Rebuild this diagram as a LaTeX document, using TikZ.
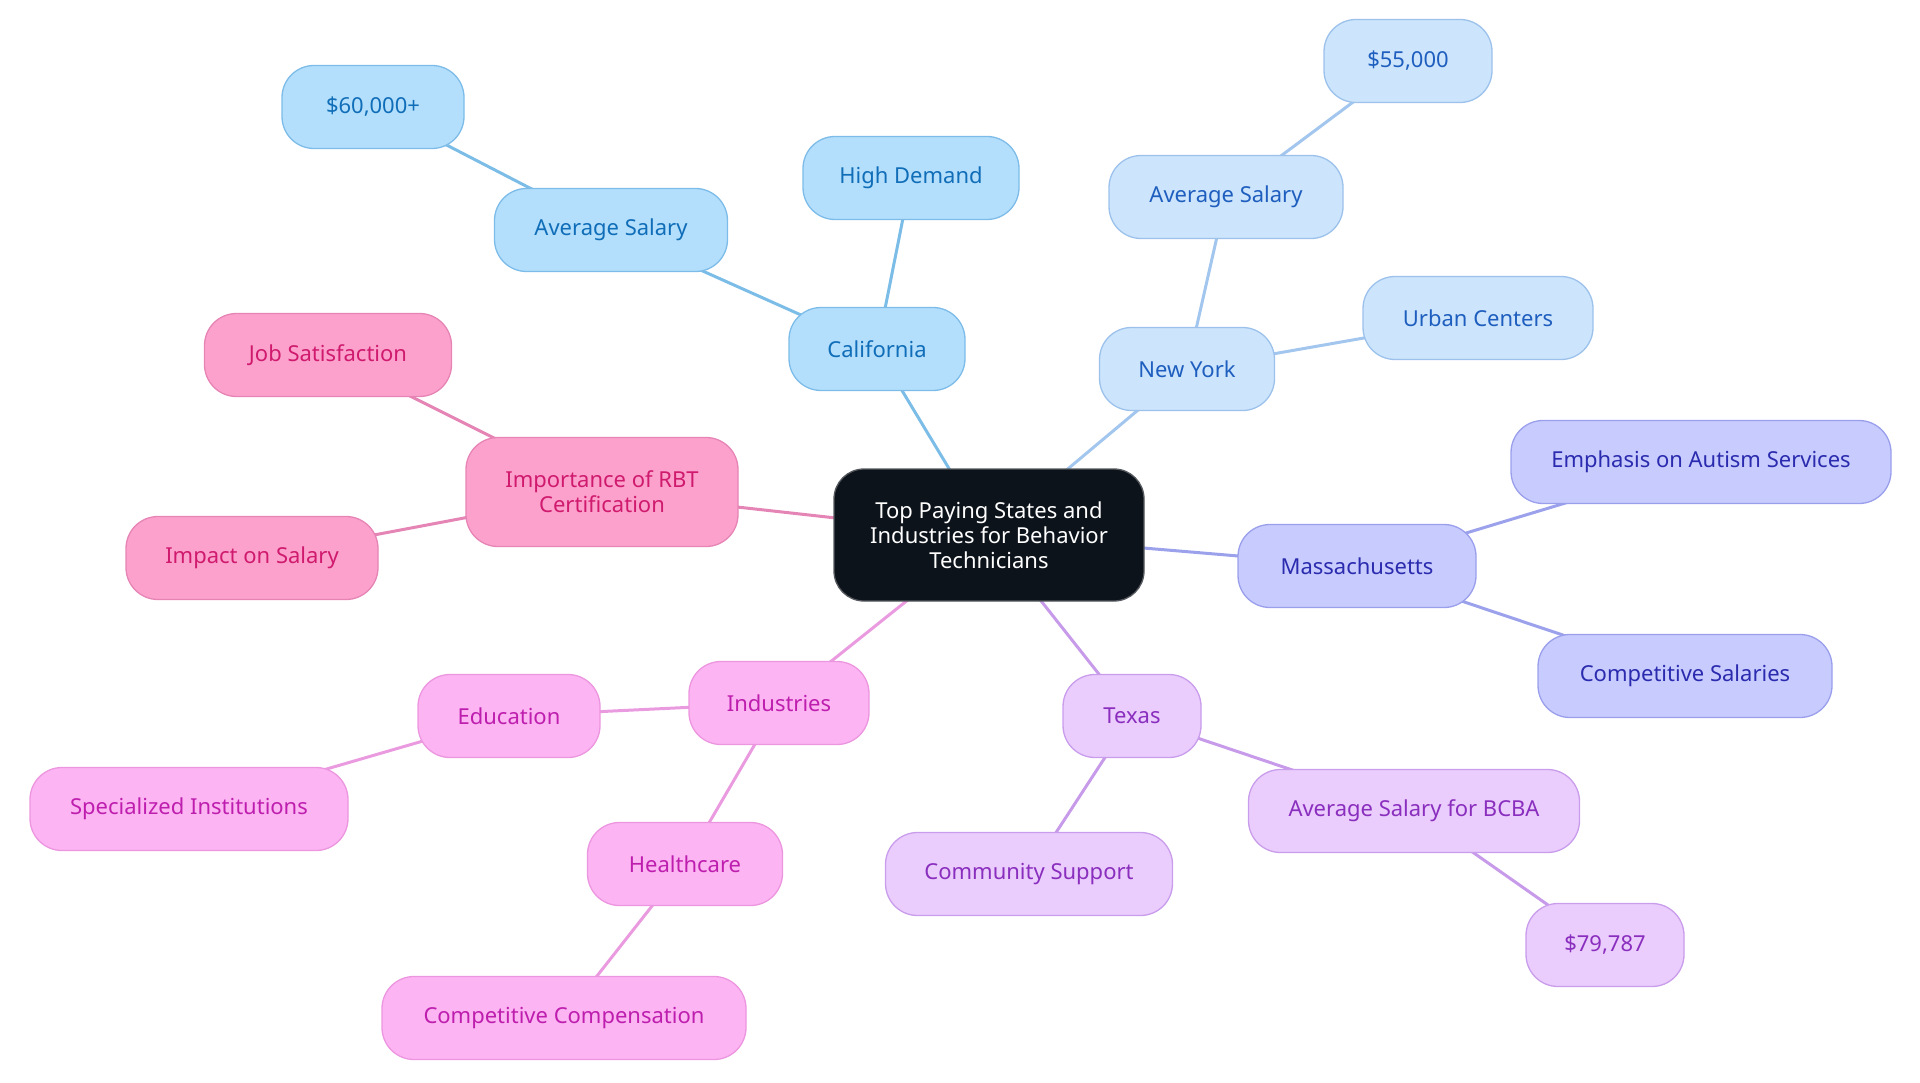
\documentclass[tikz,border=0pt]{standalone}
\usepackage{fontspec}
\setmainfont{Noto Sans}
\usetikzlibrary{backgrounds}
\definecolor{rootF}{HTML}{0D131B}
\definecolor{caF}{HTML}{B3DFFC}\definecolor{caD}{HTML}{7DBCE8}\definecolor{caT}{HTML}{106DB8}\definecolor{caL}{HTML}{7CBDE7}
\definecolor{nyF}{HTML}{CCE4FC}\definecolor{nyD}{HTML}{9CC2EC}\definecolor{nyT}{HTML}{1E5EBE}\definecolor{nyL}{HTML}{A2C6EE}
\definecolor{maF}{HTML}{C8CBFD}\definecolor{maD}{HTML}{9A9FEC}\definecolor{maT}{HTML}{2A2BAE}\definecolor{maL}{HTML}{9CA1EC}
\definecolor{txF}{HTML}{EACCFD}\definecolor{txD}{HTML}{C99DEB}\definecolor{txT}{HTML}{8A2EBE}\definecolor{txL}{HTML}{C79BEA}
\definecolor{inF}{HTML}{FCB4F3}\definecolor{inD}{HTML}{EC96DF}\definecolor{inT}{HTML}{BE1EAE}\definecolor{inL}{HTML}{EA9BE0}
\definecolor{rbF}{HTML}{FCA1CC}\definecolor{rbD}{HTML}{E684B5}\definecolor{rbT}{HTML}{CF1A6E}\definecolor{rbL}{HTML}{E585B5}
\begin{document}
\begin{tikzpicture}[x=1pt,y=-1pt,
  mm/.style={rounded corners=32pt, draw, line width=1.3pt, minimum height=83pt, inner sep=0pt, align=center, font=\fontsize{22}{25}\selectfont},
  rootbox/.style={mm, rounded corners=30pt, fill=rootF, draw=rootF!70!white, text=white, minimum height=132pt, minimum width=310pt},
  cabox/.style={mm, fill=caF, draw=caD, text=caT},
  nybox/.style={mm, fill=nyF, draw=nyD, text=nyT},
  mabox/.style={mm, fill=maF, draw=maD, text=maT},
  txbox/.style={mm, fill=txF, draw=txD, text=txT},
  inbox/.style={mm, fill=inF, draw=inD, text=inT},
  rbbox/.style={mm, fill=rbF, draw=rbD, text=rbT},
  link/.style={line width=3pt}
]
\useasboundingbox (0,0) rectangle (1920,1083);

\node[rootbox] (root) at (989,535) {Top Paying States and\\Industries for Behavior\\Technicians};

\node[cabox, minimum width=176pt] (ca) at (877,349) {California};
\node[cabox, minimum width=233pt] (caavg) at (611,230) {Average Salary};
\node[cabox, minimum width=182pt] (ca60) at (373,107) {\$60,000+};
\node[cabox, minimum width=216pt] (cahd) at (911,178) {High Demand};

\node[nybox, minimum width=175pt] (ny) at (1187,369) {New York};
\node[nybox, minimum width=234pt] (nyavg) at (1226,197) {Average Salary};
\node[nybox, minimum width=168pt] (ny55) at (1408,61) {\$55,000};
\node[nybox, minimum width=230pt] (nyurb) at (1478,318) {Urban Centers};

\node[mabox, minimum width=238pt] (ma) at (1357,566) {Massachusetts};
\node[mabox, minimum width=380pt] (maemp) at (1701,462) {Emphasis on Autism Services};
\node[mabox, minimum width=294pt] (macomp) at (1685,676) {Competitive Salaries};

\node[txbox, minimum width=138pt] (tx) at (1132,716) {Texas};
\node[txbox, minimum width=331pt] (txbcba) at (1414,811) {Average Salary for BCBA};
\node[txbox, minimum width=158pt] (tx79) at (1605,945) {\$79,787};
\node[txbox, minimum width=287pt] (txcom) at (1029,874) {Community Support};

\node[inbox, minimum width=180pt] (ind) at (779,703) {Industries};
\node[inbox, minimum width=182pt] (inedu) at (509,716) {Education};
\node[inbox, minimum width=318pt] (inspec) at (189,809) {Specialized Institutions};
\node[inbox, minimum width=195pt] (inhc) at (685,864) {Healthcare};
\node[inbox, minimum width=364pt] (incomp) at (564,1018) {Competitive Compensation};

\node[rbbox, minimum width=272pt, minimum height=109pt] (rb) at (602,492) {Importance of RBT\\Certification};
\node[rbbox, minimum width=247pt] (rbjob) at (328,355) {Job Satisfaction};
\node[rbbox, minimum width=252pt] (rbimp) at (252,558) {Impact on Salary};

\begin{pgfonlayer}{background}
\draw[link, caL] (root.center) -- (ca.center);
\draw[link, caL] (ca.center) -- (caavg.center);
\draw[link, caL] (caavg.center) -- (ca60.center);
\draw[link, caL] (ca.center) -- (cahd.center);
\draw[link, nyL] (root.center) -- (ny.center);
\draw[link, nyL] (ny.center) -- (nyavg.center);
\draw[link, nyL] (nyavg.center) -- (ny55.center);
\draw[link, nyL] (ny.center) -- (nyurb.center);
\draw[link, maL] (root.center) -- (ma.center);
\draw[link, maL] (ma.center) -- (maemp.center);
\draw[link, maL] (ma.center) -- (macomp.center);
\draw[link, txL] (root.center) -- (tx.center);
\draw[link, txL] (tx.center) -- (txbcba.center);
\draw[link, txL] (txbcba.center) -- (tx79.center);
\draw[link, txL] (tx.center) -- (txcom.center);
\draw[link, inL] (root.center) -- (ind.center);
\draw[link, inL] (ind.center) -- (inedu.center);
\draw[link, inL] (inedu.center) -- (inspec.center);
\draw[link, inL] (ind.center) -- (inhc.center);
\draw[link, inL] (inhc.center) -- (incomp.center);
\draw[link, rbL] (root.center) -- (rb.center);
\draw[link, rbL] (rb.center) -- (rbjob.center);
\draw[link, rbL] (rb.center) -- (rbimp.center);
\end{pgfonlayer}
\end{tikzpicture}
\end{document}
